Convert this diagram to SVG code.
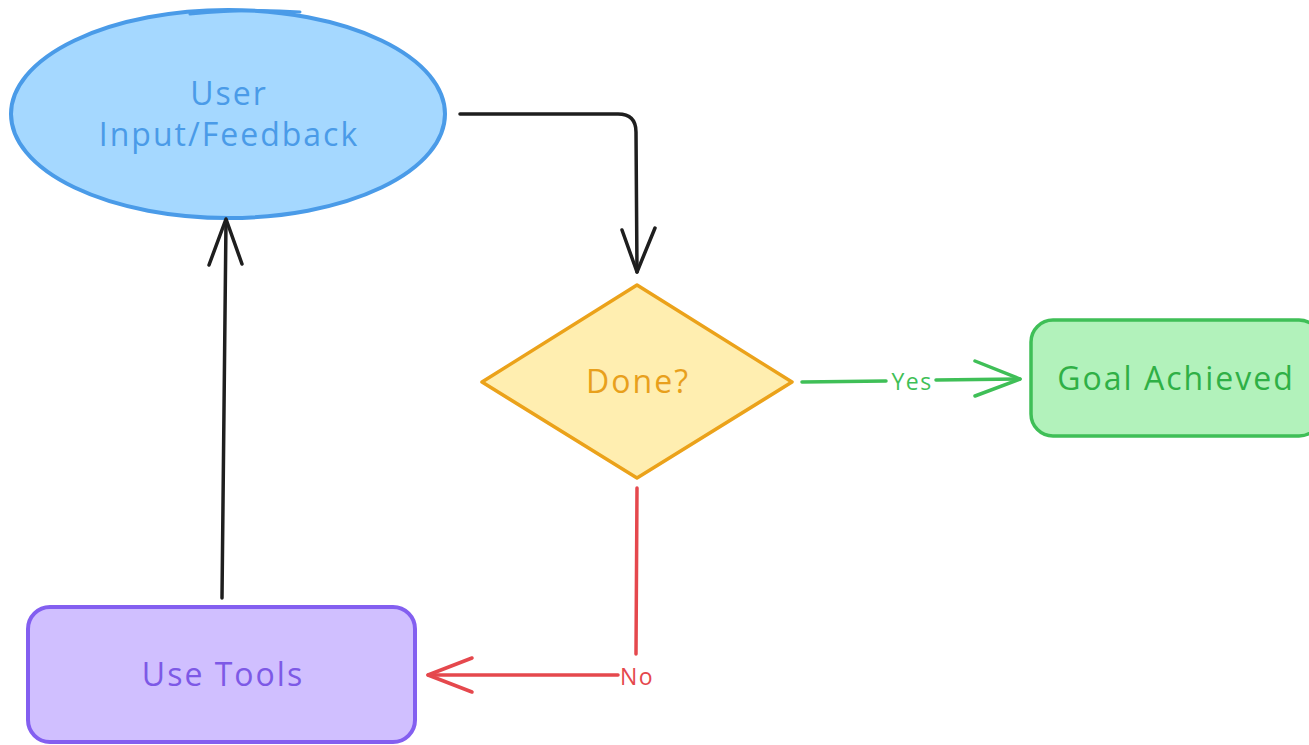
<svg xmlns="http://www.w3.org/2000/svg" width="1309" height="745" viewBox="0 0 1309 745">
  <style>
    .lbl { font-family: "Open Sans", "Liberation Sans", sans-serif; text-anchor: middle; dominant-baseline: central; font-weight: 500; }
    .node-text { font-size: 32px; letter-spacing: 2px; }
    .edge-text { font-size: 23px; letter-spacing: 1.5px; }
    .edge { fill: none; stroke-width: 3.5; stroke-linecap: round; stroke-linejoin: round; }
  </style>
  <rect width="1309" height="745" fill="#ffffff"/>

  <!-- User Input/Feedback -->
  <g id="node-user-input">
    <ellipse cx="228" cy="114" rx="217" ry="104" fill="#a5d8ff" stroke="#4a9be8" stroke-width="4"/>
    <path d="M 190 14 Q 250 8 300 12" fill="none" stroke="#4a9be8" stroke-width="3" stroke-linecap="round"/>
    <text class="lbl node-text" x="229" y="92" fill="#4a9be8">User</text>
    <text class="lbl node-text" x="229" y="133" fill="#4a9be8">Input/Feedback</text>
  </g>

  <!-- Done? decision -->
  <g id="node-done">
    <polygon points="637,285 792,382 637,478 482,382" fill="#ffeeb0" stroke="#eba21a" stroke-width="3.5" stroke-linejoin="round"/>
    <text class="lbl node-text" x="638" y="380" fill="#e8a01c">Done?</text>
  </g>

  <!-- Goal Achieved -->
  <g id="node-goal">
    <rect x="1031" y="320" width="290" height="116" rx="22" fill="#b2f2bb" stroke="#3fbf57" stroke-width="3.5"/>
    <text class="lbl node-text" x="1176" y="377" fill="#2fb046">Goal Achieved</text>
  </g>

  <!-- Use Tools -->
  <g id="node-tools">
    <rect x="28" y="607" width="387" height="135" rx="22" fill="#d0bfff" stroke="#835ff0" stroke-width="4"/>
    <text class="lbl node-text" x="223" y="673" fill="#7d59e6">Use Tools</text>
  </g>

  <!-- Connectors -->
  <g id="connectors">
    <!-- feedback to decision -->
    <path class="edge" stroke="#1e1e1e" d="M 460 114 L 618 114 Q 636 114 636 132 L 637 272"/>
    <path class="edge" stroke="#1e1e1e" d="M 622 230 L 637 272 L 655 228"/>

    <!-- tools back to feedback -->
    <path class="edge" stroke="#1e1e1e" d="M 222 598 L 226 221"/>
    <path class="edge" stroke="#1e1e1e" d="M 209 265 L 226 219 L 242 264"/>

    <!-- Yes branch -->
    <path class="edge" stroke="#3fbf57" d="M 802 382 L 886 381"/>
    <path class="edge" stroke="#3fbf57" d="M 936 380 L 1020 379"/>
    <path class="edge" stroke="#3fbf57" d="M 975 361 L 1020 379 L 975 396"/>
    <text class="lbl edge-text" x="912" y="381" fill="#3fbf57">Yes</text>

    <!-- No branch -->
    <path class="edge" stroke="#e5484d" d="M 637 488 L 636 654"/>
    <path class="edge" stroke="#e5484d" d="M 618 675 L 428 675"/>
    <path class="edge" stroke="#e5484d" d="M 472 658 L 428 675 L 472 692"/>
    <text class="lbl edge-text" x="637" y="676" fill="#e5484d">No</text>
  </g>
</svg>
